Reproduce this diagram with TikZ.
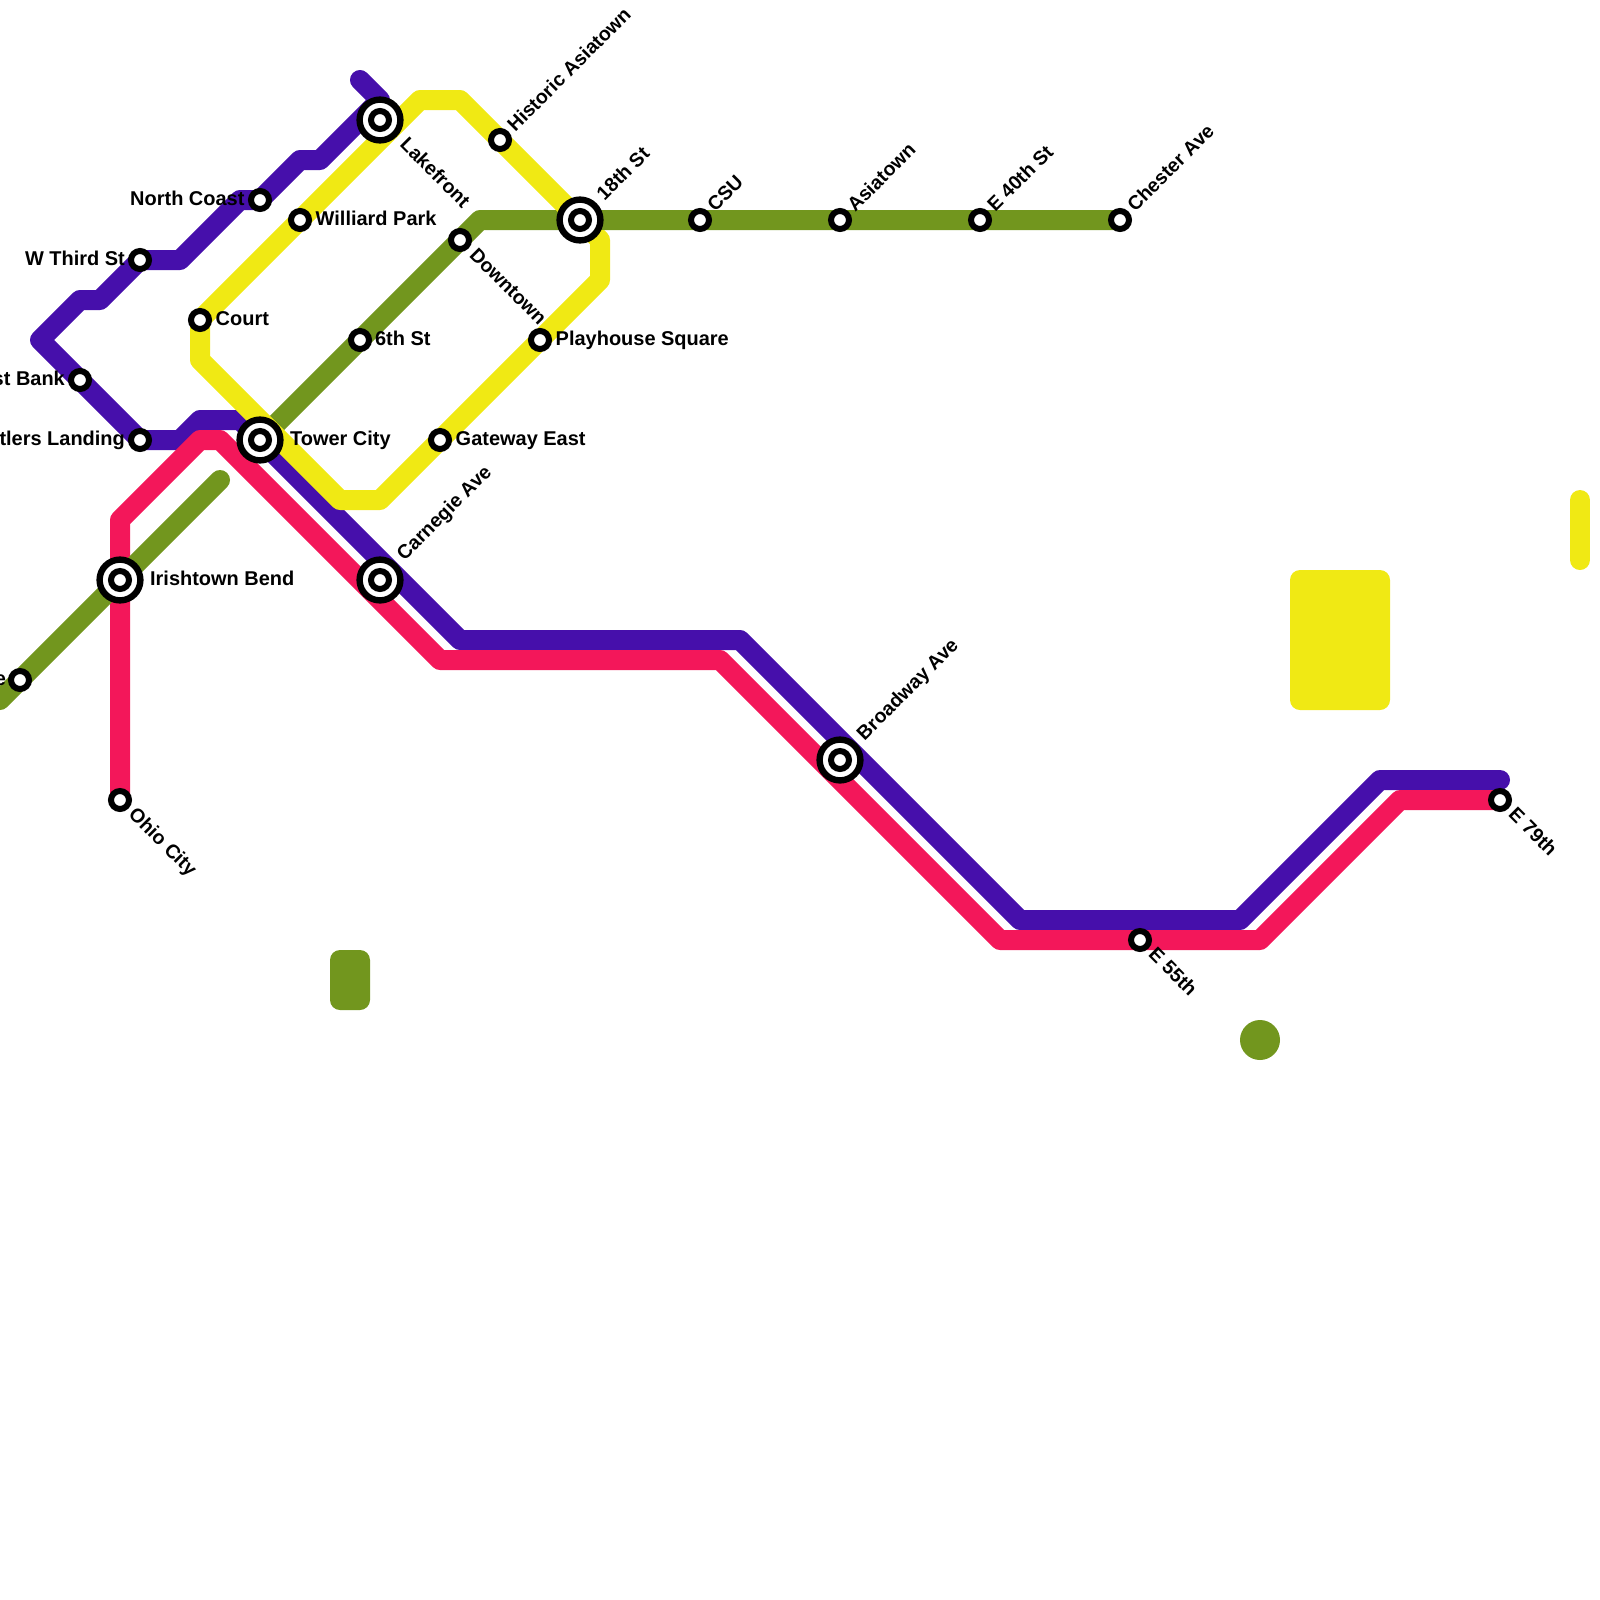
\documentclass[tikz,border=0pt]{standalone}
\usepackage{fontspec}
\usepackage{xcolor}
\setmainfont{Liberation Sans}[BoldFont=* Bold]
\usetikzlibrary{backgrounds}
\definecolor{purpleline}{HTML}{460FAB}
\definecolor{pinkline}{HTML}{F3175A}
\definecolor{oliveline}{HTML}{72961E}
\definecolor{yellowline}{HTML}{F0E914}

\begin{document}
\begin{tikzpicture}[
  railway/.style={line width=1cm, line cap=round, line join=round},
  station/.style={circle, draw=black, fill=white, line width=0.3cm, minimum size=0.9cm, inner sep=0pt},
  hub/.style={circle, draw=black, fill=white, line width=0.32cm, minimum size=2.04cm, inner sep=0pt},
  knee/.style={inner sep=0pt, minimum size=0pt, outer sep=0pt},
  lbl/.style={font=\bfseries\fontsize{28.4}{32}\selectfont, inner sep=0pt, text=black},
  lblup/.style={font=\bfseries\fontsize{27.8}{32}\selectfont, inner sep=0pt, text=black, anchor=base west, rotate=45},
  lbldown/.style={font=\bfseries\fontsize{27.8}{32}\selectfont, inner sep=0pt, text=black, anchor=base west, rotate=-45}
]
\useasboundingbox (0,0) rectangle (80,-80);
% stations
\node[hub] (lakefront) at (19,-6) {};
\node[station] (lakefrontin) at (19,-6) {};
\node[hub] (eighteenth) at (29,-11) {};
\node[station] (eighteenthin) at (29,-11) {};
\node[hub] (towercity) at (13,-22) {};
\node[station] (towercityin) at (13,-22) {};
\node[hub] (irishtown) at (6,-29) {};
\node[station] (irishtownin) at (6,-29) {};
\node[hub] (carnegie) at (19,-29) {};
\node[station] (carnegiein) at (19,-29) {};
\node[hub] (broadway) at (42,-38) {};
\node[station] (broadwayin) at (42,-38) {};
\node[station] (northcoast) at (13,-10) {};
\node[station] (wthird) at (7,-13) {};
\node[station] (westbank) at (4,-19) {};
\node[station] (settlers) at (7,-22) {};
\node[station] (williard) at (15,-11) {};
\node[station] (court) at (10,-16) {};
\node[station] (downtown) at (23,-12) {};
\node[station] (sixth) at (18,-17) {};
\node[station] (asiatownhist) at (25,-7) {};
\node[station] (playhouse) at (27,-17) {};
\node[station] (gateway) at (22,-22) {};
\node[station] (csu) at (35,-11) {};
\node[station] (asiatown) at (42,-11) {};
\node[station] (efortieth) at (49,-11) {};
\node[station] (chester) at (56,-11) {};
\node[station] (ohiocity) at (6,-40) {};
\node[station] (efiftyfive) at (57,-47) {};
\node[station] (eseventynine) at (75,-40) {};
\node[station] (westend) at (1,-34) {};
% labels
\node[lbldown] (lakefrontlbl) at (19.95,-7.28) {Lakefront};
\node[lblup] (eighteenthlbl) at (30.23,-10.07) {18th St};
\node[lbl, anchor=base west] (towercitylbl) at (14.5,-22.26) {Tower City};
\node[lbl, anchor=base west] (irishtownlbl) at (7.5,-29.26) {Irishtown Bend};
\node[lblup] (carnegielbl) at (20.23,-28.07) {Carnegie Ave};
\node[lblup] (broadwaylbl) at (43.23,-37.07) {Broadway Ave};
\node[lbl, anchor=base east] (northcoastlbl) at (12.23,-10.26) {North Coast};
\node[lbl, anchor=base east] (wthirdlbl) at (6.25,-13.26) {W Third St};
\node[lbl, anchor=base east] (westbanklbl) at (3.25,-19.26) {West Bank};
\node[lbl, anchor=base east] (settlerslbl) at (6.25,-22.26) {Settlers Landing};
\node[lbl, anchor=base west] (williardlbl) at (15.78,-11.26) {Williard Park};
\node[lbl, anchor=base west] (courtlbl) at (10.78,-16.26) {Court};
\node[lbldown] (downtownlbl) at (23.43,-12.8) {Downtown};
\node[lbl, anchor=base west] (sixthlbl) at (18.75,-17.26) {6th St};
\node[lblup] (asiatownhistlbl) at (25.76,-6.64) {Historic Asiatown};
\node[lbl, anchor=base west] (playhouselbl) at (27.78,-17.26) {Playhouse Square};
\node[lbl, anchor=base west] (gatewaylbl) at (22.78,-22.26) {Gateway East};
\node[lblup] (csulbl) at (35.76,-10.64) {CSU};
\node[lblup] (asiatownlbl) at (42.76,-10.64) {Asiatown};
\node[lblup] (efortiethlbl) at (49.76,-10.64) {E 40th St};
\node[lblup] (chesterlbl) at (56.76,-10.64) {Chester Ave};
\node[lbldown] (ohiocitylbl) at (6.38,-40.78) {Ohio City};
\node[lbldown] (efiftyfivelbl) at (57.38,-47.78) {E 55th};
\node[lbldown] (eseventyninelbl) at (75.38,-40.78) {E 79th};
\node[lbl, anchor=base east] (westendlbl) at (0.3,-34.26) {e};
% bends
\node[knee] (pa) at (18,-4) {};
\node[knee] (pb) at (19,-5) {};
\node[knee] (pc) at (16,-8) {};
\node[knee] (pd) at (15,-8) {};
\node[knee] (pe) at (12,-10) {};
\node[knee] (pf) at (9,-13) {};
\node[knee] (pg) at (5,-15) {};
\node[knee] (ph) at (4,-15) {};
\node[knee] (pi) at (2,-17) {};
\node[knee] (pj) at (9,-22) {};
\node[knee] (pk) at (10,-21) {};
\node[knee] (pl) at (12,-21) {};
\node[knee] (pm) at (23,-32) {};
\node[knee] (pn) at (37,-32) {};
\node[knee] (po) at (51,-46) {};
\node[knee] (pp) at (62,-46) {};
\node[knee] (pq) at (69,-39) {};
\node[knee] (pr) at (75,-39) {};
\node[knee] (ra) at (6,-26) {};
\node[knee] (rb) at (10,-22) {};
\node[knee] (rc) at (11,-22) {};
\node[knee] (rd) at (22,-33) {};
\node[knee] (re) at (36,-33) {};
\node[knee] (rf) at (50,-47) {};
\node[knee] (rg) at (63,-47) {};
\node[knee] (rh) at (70,-40) {};
\node[knee] (ya) at (21,-5) {};
\node[knee] (yb) at (23,-5) {};
\node[knee] (yc) at (30,-12) {};
\node[knee] (yd) at (30,-14) {};
\node[knee] (ye) at (19,-25) {};
\node[knee] (yf) at (17,-25) {};
\node[knee] (yg) at (10,-18) {};
\node[knee] (oa) at (0,-35) {};
\node[knee] (ob) at (11,-24) {};
\node[knee] (oc) at (24,-11) {};
\begin{pgfonlayer}{background}
\draw[railway, purpleline] (pa.center) -- (pb.center) -- (pc.center) -- (pd.center) -- (northcoast.center) -- (pe.center) -- (pf.center) -- (wthird.center) -- (pg.center) -- (ph.center) -- (pi.center) -- (settlers.center) -- (pj.center) -- (pk.center) -- (pl.center) -- (pm.center) -- (pn.center) -- (po.center) -- (pp.center) -- (pq.center) -- (pr.center);
\draw[railway, oliveline] (towercity.center) -- (oc.center) -- (chester.center);
\draw[railway, pinkline] (ohiocity.center) -- (ra.center) -- (rb.center) -- (rc.center) -- (rd.center) -- (re.center) -- (rf.center) -- (rg.center) -- (rh.center) -- (eseventynine.center);
\draw[railway, yellowline] (ya.center) -- (yb.center) -- (yc.center) -- (yd.center) -- (ye.center) -- (yf.center) -- (yg.center) -- (court.center) -- cycle;
\draw[railway, oliveline] (oa.center) -- (ob.center);
\draw[railway, oliveline] (eighteenth.center) -- (chester.center);
% loose blocks
\fill[yellowline, rounded corners=0.5cm] (64.5,-28.5) rectangle (69.5,-35.5);
\draw[railway, yellowline] (79,-25) -- (79,-28);
\fill[oliveline, rounded corners=0.5cm] (16.5,-47.5) rectangle (18.5,-50.5);
\fill[oliveline] (63,-52) circle (1cm);
\end{pgfonlayer}
\end{tikzpicture}
\end{document}
